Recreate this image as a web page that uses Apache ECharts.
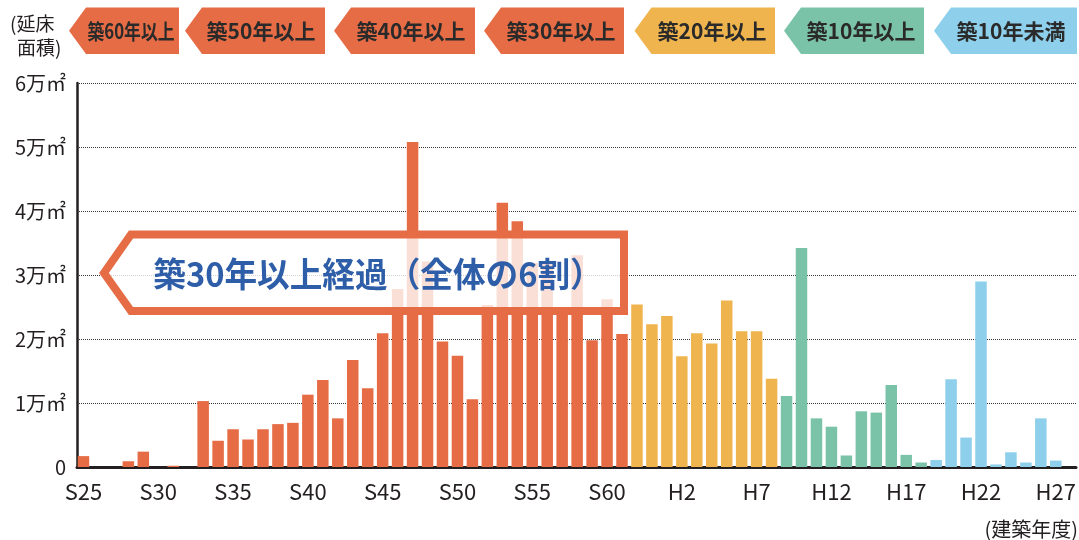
<!DOCTYPE html>
<html lang="ja">
<head>
<meta charset="utf-8">
<title>建築年度別 延床面積</title>
<script src="https://cdn.jsdelivr.net/npm/echarts@6/dist/echarts.min.js"></script>
<style>
  html, body { margin: 0; padding: 0; background: #ffffff; }
  #chart { width: 1079px; height: 540px; }
</style>
</head>
<body>
<div id="chart"></div>
<script>
// 建築年度（昭和25年度〜平成27年度）
const categories = [
  'S25','S26','S27','S28','S29','S30','S31','S32','S33','S34',
  'S35','S36','S37','S38','S39','S40','S41','S42','S43','S44',
  'S45','S46','S47','S48','S49','S50','S51','S52','S53','S54',
  'S55','S56','S57','S58','S59','S60','S61','S62','S63',
  'H1','H2','H3','H4','H5','H6','H7','H8','H9','H10',
  'H11','H12','H13','H14','H15','H16','H17','H18','H19','H20',
  'H21','H22','H23','H24','H25','H26','H27'
];

// 延床面積（万㎡）
const floorArea = [
  0.17, 0, 0, 0.09, 0.24, 0, 0.02, 0, 1.03, 0.41,
  0.59, 0.43, 0.59, 0.67, 0.69, 1.13, 1.36, 0.76, 1.67, 1.23,
  2.09, 2.78, 5.08, 3.21, 1.96, 1.74, 1.06, 2.53, 4.13, 3.84,
  3.19, 3.19, 2.42, 3.31, 1.98, 2.62, 2.08, 2.54, 2.23,
  2.36, 1.73, 2.09, 1.93, 2.60, 2.12, 2.12, 1.38, 1.11, 3.42,
  0.76, 0.63, 0.18, 0.87, 0.85, 1.28, 0.19, 0.07, 0.11, 1.37,
  0.46, 2.90, 0.04, 0.23, 0.07, 0.76, 0.10
];

// 経過年数の区分（凡例）
const ageGroups = ['築60年以上', '築50年以上', '築40年以上', '築30年以上', '築20年以上', '築10年以上', '築10年未満'];
const ageGroupColors = ['#e66c45', '#e66c45', '#e66c45', '#e66c45', '#efb44e', '#7bc3a8', '#8ecfeb'];

// 棒の色が切り替わる年度とその色
const bandStarts = ['S25', 'S62', 'H9', 'H19'];
const bandColors = ['#e66c45', '#efb44e', '#7bc3a8', '#8ecfeb'];

// 縦軸の目盛（万㎡）
const yTicks = [0, 1, 2, 3, 4, 5, 6];

const calloutText = '築30年以上経過（全体の6割）';
const yUnitText = ['(延床', '面積)'];
const xUnitText = '(建築年度)';

// --- 描画 ---
const bandStartIdx = bandStarts.map(c => categories.indexOf(c));
function barColor(i) {
  let k = 0;
  for (let b = 0; b < bandStartIdx.length; b++) if (i >= bandStartIdx[b]) k = b;
  return bandColors[k];
}

const FONT = '"Noto Sans CJK JP", "Noto Sans", sans-serif';
const INK = '#231f20';

// 凡例タグの配置（左向き矢印形）
const tagTips = [69, 185, 334, 484, 634.5, 784, 934];
const tagRights = [179, 325, 475, 624, 775, 924, 1077];
const tagTextCenters = [131, 261, 411, 561, 712, 861, 1011];
const tagTextScale = [0.8, 1, 1, 1, 1, 1, 1];
const tagTop = 7.5, tagBottom = 54, tagNeck = 17;

const graphics = [];
ageGroups.forEach((name, i) => {
  const x0 = tagTips[i], x1 = tagRights[i], ym = (tagTop + tagBottom) / 2;
  graphics.push({
    type: 'polygon',
    z: 100,
    shape: { points: [[x0, ym], [x0 + tagNeck, tagTop], [x1, tagTop], [x1, tagBottom], [x0 + tagNeck, tagBottom]] },
    style: { fill: ageGroupColors[i] }
  });
  graphics.push({
    type: 'text',
    z: 101,
    x: tagTextCenters[i],
    y: ym,
    scaleX: tagTextScale[i],
    style: {
      text: name, fill: '#2a2a2a', font: 'bold 21px ' + FONT,
      textAlign: 'center', textVerticalAlign: 'middle'
    }
  });
});

// 縦軸の単位
graphics.push({
  type: 'text', z: 100, x: 10, y: 24,
  style: { text: yUnitText[0], fill: INK, font: '19px ' + FONT, textAlign: 'left', textVerticalAlign: 'middle' }
});
graphics.push({
  type: 'text', z: 100, x: 17, y: 48,
  style: { text: yUnitText[1], fill: INK, font: '19px ' + FONT, textAlign: 'left', textVerticalAlign: 'middle' }
});
// 横軸の単位
graphics.push({
  type: 'text', z: 100, x: 1078, y: 529,
  style: { text: xUnitText, fill: INK, font: '20px ' + FONT, textAlign: 'right', textVerticalAlign: 'middle' }
});

// 吹き出し（半透明の白地に橙の枠）
graphics.push({
  type: 'polygon',
  z: 100,
  shape: { points: [[104, 273], [131, 234.5], [624, 234.5], [624, 311], [131, 311]] },
  style: { fill: 'rgba(255,255,255,0.78)', stroke: '#e66c45', lineWidth: 8, lineJoin: 'miter' }
});
graphics.push({
  type: 'text',
  z: 101,
  x: 378,
  y: 274,
  scaleX: 0.96,
  style: {
    text: calloutText, fill: '#2f5ea8', font: 'bold 34px ' + FONT,
    textAlign: 'center', textVerticalAlign: 'middle'
  }
});

const chart = echarts.init(document.getElementById('chart'), null, { renderer: 'canvas' });

chart.setOption({
  animation: false,
  backgroundColor: '#ffffff',
  textStyle: { fontFamily: FONT },
  grid: [
    // 棒グラフ領域
    { left: 76, right: 13, top: 83, bottom: 73 },
    // 目盛線と軸線の領域
    { left: 77, right: 3, top: 83, bottom: 73 }
  ],
  xAxis: [
    {
      type: 'category',
      gridIndex: 0,
      data: categories,
      boundaryGap: true,
      axisLine: { show: false },
      axisTick: { show: false },
      axisLabel: {
        interval: 4,
        margin: 14,
        fontSize: 22,
        color: INK,
        fontFamily: FONT
      }
    },
    {
      type: 'value',
      gridIndex: 1,
      min: 0,
      max: 1,
      axisLine: { show: true, onZero: false, lineStyle: { color: INK, width: 3 } },
      axisTick: { show: false },
      axisLabel: { show: false },
      splitLine: { show: false }
    }
  ],
  yAxis: [
    {
      type: 'value',
      gridIndex: 0,
      min: yTicks[0],
      max: yTicks[yTicks.length - 1],
      interval: 1,
      show: false
    },
    {
      type: 'value',
      gridIndex: 1,
      min: yTicks[0],
      max: yTicks[yTicks.length - 1],
      interval: 1,
      axisLine: { show: true, lineStyle: { color: INK, width: 2.5 } },
      axisTick: { show: false },
      axisLabel: {
        margin: 11,
        fontSize: 20,
        color: INK,
        fontFamily: FONT,
        formatter: v => (v === 0 ? '0' : v + '万㎡')
      },
      splitLine: { show: true, lineStyle: { color: '#333333', type: 'dotted', width: 1 } }
    }
  ],
  series: [
    {
      type: 'bar',
      xAxisIndex: 0,
      yAxisIndex: 0,
      barWidth: 11.5,
      data: floorArea.map((v, i) => ({ value: v, itemStyle: { color: barColor(i) } })),
      z: 3
    }
  ],
  graphic: graphics
});
</script>
</body>
</html>
